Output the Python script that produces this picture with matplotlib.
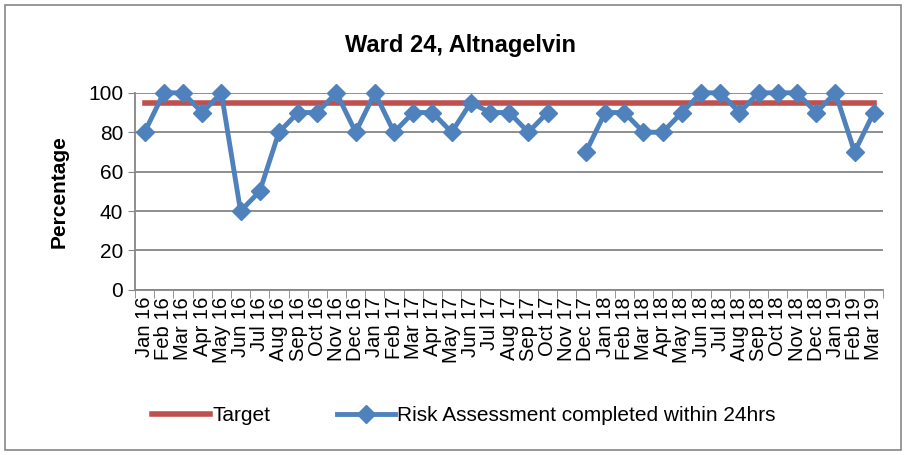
import numpy as np
import matplotlib.pyplot as plt
from matplotlib.patches import Rectangle

# Datos
meses = ['Jan 16', 'Feb 16', 'Mar 16', 'Apr 16', 'May 16', 'Jun 16', 'Jul 16', 'Aug 16',
         'Sep 16', 'Oct 16', 'Nov 16', 'Dec 16', 'Jan 17', 'Feb 17', 'Mar 17', 'Apr 17',
         'May 17', 'Jun 17', 'Jul 17', 'Aug 17', 'Sep 17', 'Oct 17', 'Nov 17', 'Dec 17',
         'Jan 18', 'Feb 18', 'Mar 18', 'Apr 18', 'May 18', 'Jun 18', 'Jul 18', 'Aug 18',
         'Sep 18', 'Oct 18', 'Nov 18', 'Dec 18', 'Jan 19', 'Feb 19', 'Mar 19']
riesgo = [80, 100, 100, 90, 100, 40, 50, 80,
          90, 90, 100, 80, 100, 80, 90, 90,
          80, 95, 90, 90, 80, 90, np.nan, 70,
          90, 90, 80, 80, 90, 100, 100, 90,
          100, 100, 100, 90, 100, 70, 90]
objetivo = [95] * len(meses)

plt.rcParams['font.family'] = ['Liberation Sans', 'DejaVu Sans']

x = np.arange(len(meses))
fig = plt.figure(figsize=(9.06, 4.55), dpi=100)
ax = fig.add_axes([0.149, 0.363, 0.826, 0.433])

ax.plot(x, objetivo, color='#C0504D', lw=4, label='Target', zorder=3)
ax.plot(x, riesgo, color='#4F81BD', lw=3.5, marker='D', markersize=9,
        label='Risk Assessment completed within 24hrs', zorder=4, clip_on=False)

ax.set_xlim(-0.5, len(meses) - 0.5)
ax.set_ylim(0, 100)
ax.set_yticks(range(0, 101, 20))
ax.tick_params(axis='y', labelsize=15, length=5, color='#868686')
ax.set_xticks(x)
ax.set_xticklabels(meses, rotation=90, fontsize=14.5)
ax.tick_params(axis='x', length=0, pad=5)
ax.set_xticks(np.arange(-0.5, len(meses), 1), minor=True)
ax.tick_params(axis='x', which='minor', length=6, color='#868686')
ax.grid(axis='y', color='#868686', lw=1.3)
ax.set_axisbelow(True)
for s in ['top', 'right']:
    ax.spines[s].set_visible(False)
for s in ['left', 'bottom']:
    ax.spines[s].set_color('#868686')
    ax.spines[s].set_linewidth(1.3)

ax.set_ylabel('Percentage', fontsize=15, fontweight='bold', labelpad=14)
fig.text(0.508, 0.9, 'Ward 24, Altnagelvin', fontsize=17, fontweight='bold',
         ha='center', va='center')

fig.legend(loc='center', bbox_to_anchor=(0.512, 0.087), ncol=2, frameon=False,
           fontsize=15, handlelength=2.8, columnspacing=3.2, handletextpad=0.1)

fig.patches.append(Rectangle((0.006, 0.011), 0.988, 0.978, transform=fig.transFigure,
                             fill=False, edgecolor='#868686', lw=1.2))

plt.savefig('out.png', dpi=100)
